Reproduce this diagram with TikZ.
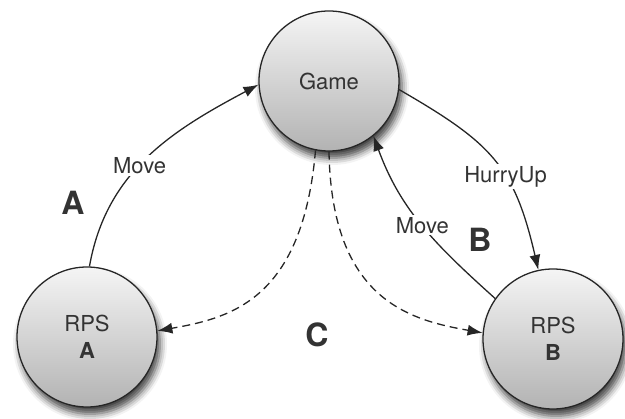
\documentclass[tikz,border=0pt]{standalone}
\usepackage{fontspec}
\setmainfont{TeX Gyre Heros}
\usetikzlibrary{arrows.meta,shadows.blur}

\begin{document}
\begin{tikzpicture}[
    x=1pt, y=-1pt,
    agent/.style={circle, draw=black!85, line width=1.3pt, minimum size=140pt,
        top color=white!96!black, bottom color=black!30,
        blur shadow={shadow xshift=3pt, shadow yshift=-7pt, shadow blur radius=7pt, shadow opacity=75},
        text=black!80, align=center, font=\fontsize{22}{25}\selectfont},
    msg/.style={fill=white, inner sep=2pt, text=black!80, font=\fontsize{22}{25}\selectfont},
    zone/.style={text=black!80, font=\fontsize{32}{34}\selectfont\bfseries},
    >={Latex[length=15pt, width=11pt]},
    flow/.style={->, draw=black!85, line width=1.3pt},
    sync/.style={flow, dash pattern=on 8pt off 5pt}
]
    \useasboundingbox (0,0) rectangle (625,419);

    % agents
    \node[agent] (game) at (329,81) {Game};
    \node[agent] (rpsA) at (87,337) {RPS\\[2pt]\textbf{A}};
    \node[agent] (rpsB) at (553,339) {RPS\\[2pt]\textbf{B}};

    % zone letters
    \node[zone] (zA) at (73,203) {A};
    \node[zone] (zB) at (480,240) {B};
    \node[zone] (zC) at (317,335) {C};

    % A moves to the game
    \draw[flow] (rpsA.88) to[out=80, in=208] node[msg, pos=0.45] {Move} (game.183);

    % the game hurries B
    \draw[flow] (game.-7) to[out=-30, in=103, looseness=1.2] node[msg, pos=0.6] {HurryUp} (rpsB.102);

    % B moves to the game
    \draw[flow] (rpsB.145) to[out=138, in=-70] node[msg, pos=0.5] {Move} (game.-51);

    % dashed lines down to both players
    \draw[sync] (game.-101) to[out=-95, in=10, out looseness=1.6, in looseness=0.8] (rpsA.5);
    \draw[sync] (game.-90) to[out=-89, in=170, out looseness=1.6, in looseness=0.8] (rpsB.175);

\end{tikzpicture}
\end{document}
